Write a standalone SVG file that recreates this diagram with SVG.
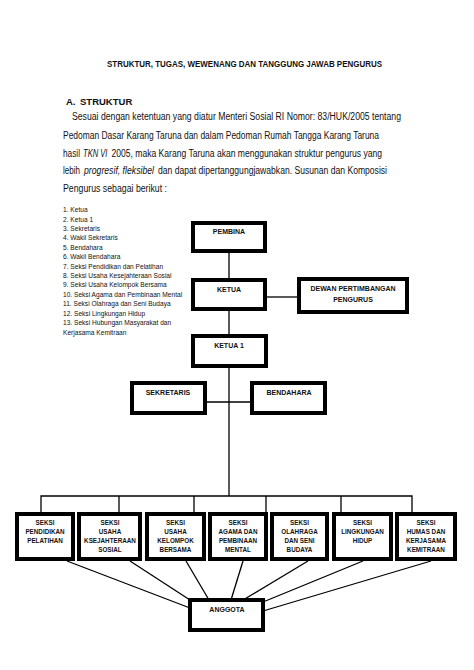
<svg xmlns="http://www.w3.org/2000/svg" width="474" height="670" viewBox="0 0 474 670">
<style>
text{font-family:"Liberation Sans",Arial,sans-serif;fill:#111}
.t{font-weight:bold;font-size:9.5px}
.p{font-size:10px}
.i{font-style:italic}
.l{font-size:6.6px}
.b{font-weight:bold;font-size:7px;text-anchor:middle}
.s{font-weight:bold;font-size:6.3px;text-anchor:middle}
.box{fill:#fff;stroke:#000;stroke-width:4}
.c{stroke:#000;stroke-width:1.3;fill:none}
</style>
<rect width="474" height="670" fill="#fff"/>
<text class="t" x="107" y="67" textLength="275" lengthAdjust="spacingAndGlyphs">STRUKTUR, TUGAS, WEWENANG DAN TANGGUNG JAWAB PENGURUS</text>
<text class="t" x="66" y="105">A.</text>
<text class="t" x="80" y="105">STRUKTUR</text>
<text class="p" x="72" y="120" textLength="329" lengthAdjust="spacingAndGlyphs">Sesuai dengan ketentuan yang diatur Menteri Sosial RI Nomor: 83/HUK/2005 tentang</text>
<text class="p" x="63" y="139" textLength="316" lengthAdjust="spacingAndGlyphs">Pedoman Dasar Karang Taruna dan dalam Pedoman Rumah Tangga Karang Taruna</text>
<text class="p" x="63" y="157" textLength="17" lengthAdjust="spacingAndGlyphs">hasil</text>
<text class="p i" transform="translate(83,157) scale(0.76,1)">TKN VI</text>
<text class="p" x="111.5" y="157" textLength="270.5" lengthAdjust="spacingAndGlyphs">2005, maka Karang Taruna akan menggunakan struktur pengurus yang</text>
<text class="p" x="63" y="174" textLength="17" lengthAdjust="spacingAndGlyphs">lebih</text>
<text class="p i" x="84" y="174" textLength="70" lengthAdjust="spacingAndGlyphs">progresif, fleksibel</text>
<text class="p" x="158" y="174" textLength="229" lengthAdjust="spacingAndGlyphs">dan dapat dipertanggungjawabkan. Susunan dan Komposisi</text>
<text class="p" x="63" y="192" textLength="104" lengthAdjust="spacingAndGlyphs">Pengurus sebagai berikut :</text>
<g id="list">
<text class="l" x="63" y="212">1. Ketua</text>
<text class="l" x="63" y="221.5">2. Ketua 1</text>
<text class="l" x="63" y="231">3. Sekretaris</text>
<text class="l" x="63" y="240">4. Wakil Sekretaris</text>
<text class="l" x="63" y="249.5">5. Bendahara</text>
<text class="l" x="63" y="259">6. Wakil Bendahara</text>
<text class="l" x="63" y="268.5">7. Seksi Pendidikan dan Pelatihan</text>
<text class="l" x="63" y="277.5">8. Seksi Usaha Kesejahteraan Sosial</text>
<text class="l" x="63" y="287">9. Seksi Usaha Kelompok Bersama</text>
<text class="l" x="63" y="296.5">10. Seksi Agama dan Pembinaan Mental</text>
<text class="l" x="63" y="306">11. Seksi Olahraga dan Seni Budaya</text>
<text class="l" x="63" y="315.5">12. Seksi  Lingkungan Hidup</text>
<text class="l" x="63" y="325">13. Seksi Hubungan Masyarakat dan</text>
<text class="l" x="63" y="334.5">Kerjasama Kemitraan</text>
</g>
<g id="connectors">
<line class="c" x1="229" y1="253" x2="229" y2="280"/>
<line class="c" x1="229" y1="311" x2="229" y2="336"/>
<line class="c" x1="267" y1="297" x2="299" y2="297"/>
<line class="c" x1="229" y1="368" x2="229" y2="496"/>
<line class="c" x1="207" y1="402" x2="252" y2="402"/>
<polyline class="c" points="41,514 41,496 412,496 412,514"/>
<line class="c" x1="119" y1="496" x2="119" y2="514"/>
<line class="c" x1="194" y1="496" x2="194" y2="514"/>
<line class="c" x1="266" y1="496" x2="266" y2="514"/>
<line class="c" x1="341" y1="496" x2="341" y2="514"/>
<line class="c" x1="67" y1="561" x2="190" y2="608"/>
<line class="c" x1="130" y1="561" x2="190" y2="600"/>
<line class="c" x1="186" y1="561" x2="209" y2="600"/>
<line class="c" x1="243" y1="561" x2="231" y2="600"/>
<line class="c" x1="308" y1="561" x2="243" y2="600"/>
<line class="c" x1="363" y1="561" x2="263" y2="602"/>
<line class="c" x1="431" y1="561" x2="263" y2="611"/>
</g>
<g id="pembina"><rect class="box" x="193" y="223" width="72" height="28"/><text class="b" x="229" y="234">PEMBINA</text></g>
<g id="ketua"><rect class="box" x="193" y="280" width="72" height="29"/><text class="b" x="229" y="292">KETUA</text></g>
<g id="dewan"><rect class="box" x="299" y="279" width="108" height="33"/><text class="b" x="353" y="291">DEWAN PERTIMBANGAN</text><text class="b" x="353" y="302">PENGURUS</text></g>
<g id="ketua1"><rect class="box" x="193" y="336" width="73" height="30"/><text class="b" x="229" y="348">KETUA 1</text></g>
<g id="sekretaris"><rect class="box" x="132" y="383" width="73" height="30"/><text class="b" x="168" y="395">SEKRETARIS</text></g>
<g id="bendahara"><rect class="box" x="252" y="383" width="73" height="30"/><text class="b" x="289" y="395">BENDAHARA</text></g>
<g id="s1"><rect class="box" x="17" y="514" width="56" height="45"/><text class="s" x="45" y="524.5">SEKSI</text><text class="s" x="45" y="533.5">PENDIDIKAN</text><text class="s" x="45" y="542.5">PELATIHAN</text></g>
<g id="s2"><rect class="box" x="79" y="514" width="61" height="45"/><text class="s" x="110" y="524.5">SEKSI</text><text class="s" x="110" y="533.5">USAHA</text><text class="s" x="110" y="542.5">KSEJAHTERAAN</text><text class="s" x="110" y="551.5">SOSIAL</text></g>
<g id="s3"><rect class="box" x="147" y="514" width="57" height="45"/><text class="s" x="175.5" y="524.5">SEKSI</text><text class="s" x="175.5" y="533.5">USAHA</text><text class="s" x="175.5" y="542.5">KELOMPOK</text><text class="s" x="175.5" y="551.5">BERSAMA</text></g>
<g id="s4"><rect class="box" x="210" y="514" width="56" height="45"/><text class="s" x="238" y="524.5">SEKSI</text><text class="s" x="238" y="533.5">AGAMA DAN</text><text class="s" x="238" y="542.5">PEMBINAAN</text><text class="s" x="238" y="551.5">MENTAL</text></g>
<g id="s5"><rect class="box" x="272" y="514" width="55" height="45"/><text class="s" x="299.5" y="524.5">SEKSI</text><text class="s" x="299.5" y="533.5">OLAHRAGA</text><text class="s" x="299.5" y="542.5">DAN SENI</text><text class="s" x="299.5" y="551.5">BUDAYA</text></g>
<g id="s6"><rect class="box" x="334" y="514" width="57" height="45"/><text class="s" x="362.5" y="524.5">SEKSI</text><text class="s" x="362.5" y="533.5">LINGKUNGAN</text><text class="s" x="362.5" y="542.5">HIDUP</text></g>
<g id="s7"><rect class="box" x="397" y="514" width="58" height="45"/><text class="s" x="426" y="524.5">SEKSI</text><text class="s" x="426" y="533.5">HUMAS DAN</text><text class="s" x="426" y="542.5">KERJASAMA</text><text class="s" x="426" y="551.5">KEMITRAAN</text></g>
<g id="anggota"><rect class="box" x="190" y="600" width="73" height="30"/><text class="b" x="227" y="612">ANGGOTA</text></g>
</svg>
